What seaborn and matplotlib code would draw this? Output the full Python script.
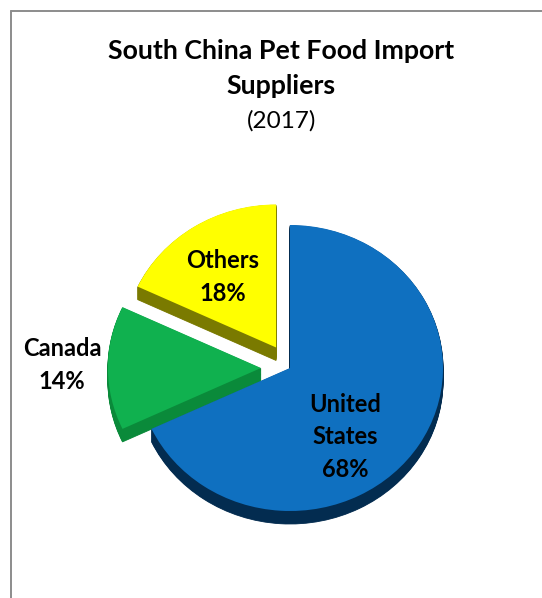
import matplotlib
matplotlib.use("Agg")
import matplotlib.pyplot as plt
from matplotlib.lines import Line2D
import seaborn as sns

# Import share by supplier, 2017 (percent)
suppliers = ["United States", "Canada", "Others"]
shares = [68, 14, 18]
slice_labels = ["United\nStates", "Canada", "Others"]

top_colors = ["#0F70C0", "#10B14F", "#FFFF00"]
side_colors = ["#032C50", "#0A8A3A", "#7A7A00"]
explode = [0.0, 0.19, 0.17]

sns.set_theme(style="white")
plt.rcParams["font.family"] = ["Lato", "DejaVu Sans"]

W, H = 542, 598
fig = plt.figure(figsize=(W / 100, H / 100), dpi=100)
ax = fig.add_axes([0, 0, 1, 1])

# pixels per radius unit: the disc is tilted, so it is a bit flatter vertically
sx, sy = 153, 143
cx, cy = 290, 368

# extruded sides: stack of darker copies shifted downwards
depth = 13 / sy
n_layers = 16
for k in range(n_layers, 0, -1):
    wedges, _ = ax.pie(shares, explode=explode, colors=side_colors, startangle=90,
                       counterclock=False, center=(0, -depth * k / n_layers),
                       frame=True, wedgeprops=dict(linewidth=0.6))
    for w, c in zip(wedges, side_colors):
        w.set_edgecolor(c)
# top faces
ax.pie(shares, explode=explode, colors=top_colors, startangle=90,
       counterclock=False, center=(0, 0), frame=True,
       wedgeprops=dict(linewidth=0))

ax.set_aspect("auto")
ax.set_xlim(-cx / sx, (W - cx) / sx)
ax.set_ylim(-(H - cy) / sy, cy / sy)
ax.axis("off")


def fx(x):
    return x / W


def fy(y):
    return 1 - y / H


# title block
fig.text(fx(281), fy(51), "South China Pet Food Import", ha="center", va="center",
         fontsize=19.3, fontweight="bold", color="black")
fig.text(fx(281), fy(86), "Suppliers", ha="center", va="center",
         fontsize=19.3, fontweight="bold", color="black")
fig.text(fx(282), fy(121), "(2017)", ha="center", va="center",
         fontsize=17.5, color="black")

# slice labels
label_pos = {"United States": (345, 437), "Canada": (62, 365), "Others": (223, 277)}
for name, lab, val in zip(suppliers, slice_labels, shares):
    x, y = label_pos[name]
    fig.text(fx(x), fy(y), f"{lab}\n{val}%", ha="center", va="center",
             fontsize=17, fontweight="bold", color="black", linespacing=1.5)

# chart-area border (top and left edges)
border = "#8C8C8C"
fig.add_artist(Line2D([fx(10.5), 1], [fy(10.5), fy(10.5)], color=border, lw=1.4,
                      transform=fig.transFigure))
fig.add_artist(Line2D([fx(10.5), fx(10.5)], [fy(10.5), 0], color=border, lw=1.4,
                      transform=fig.transFigure))

fig.savefig("out.png", dpi=100, facecolor="white")
